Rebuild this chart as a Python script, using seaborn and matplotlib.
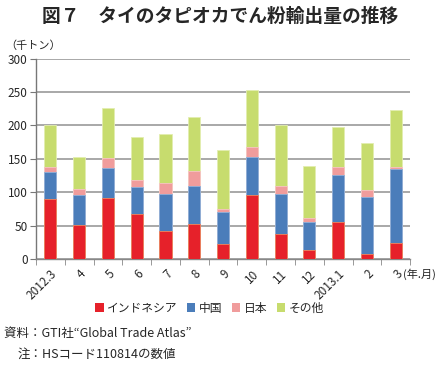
import pandas as pd
import matplotlib.pyplot as plt
import seaborn as sns
from matplotlib.patches import Patch

# data (thousand tons)
months = ['2012.3', '4', '5', '6', '7', '8', '9', '10', '11', '12', '2013.1', '2', '3']
indonesia = [89.5, 50.5, 91, 67, 42.5, 52, 22.5, 95.5, 37.5, 13.5, 55, 8, 24.5]
china = [41, 46, 45, 40.5, 55, 57, 48.5, 57, 59.5, 42, 70.5, 84.5, 110]
japan = [6.5, 8.5, 14.5, 10.5, 16, 22.5, 4.5, 14.5, 12, 5.5, 11.5, 11, 3]
other = [64, 48, 76, 64, 73.5, 80.5, 88, 86.5, 92, 78, 60.5, 70.5, 86]
series_names = ['インドネシア', '中国', '日本', 'その他']
colors = ['#E6212A', '#4B7DBA', '#F09C9C', '#C7DC6E']
edges = ['#F2845A', '#8FB0DA', '#F7C4C4', '#E3EEB0']

sns.set_style('white')
plt.rcParams['font.family'] = ['Noto Sans CJK JP', 'DejaVu Sans']

df = pd.DataFrame({'month': months, 'インドネシア': indonesia, '中国': china,
                   '日本': japan, 'その他': other})
# cumulative totals for the stacked look
cum = df[series_names].cumsum(axis=1)

fig = plt.figure(figsize=(4.41, 3.72), dpi=100)
ax = fig.add_axes([0.0816, 0.3038, 0.8484, 0.5389])

# draw from the top segment down so the lower ones cover the rest
for name, c, e in reversed(list(zip(series_names, colors, edges))):
    sns.barplot(x=df['month'], y=cum[name], color=c, width=0.42,
                edgecolor=e, linewidth=0.6, saturation=1, ax=ax, zorder=3)

ax.set_ylim(0, 300)
ax.set_xlim(-0.5, 12.5)
ax.set_yticks(range(0, 301, 50))
ax.yaxis.grid(True, color='#9a9a9a', linewidth=1.2, zorder=0)
ax.set_axisbelow(True)
ax.set_xlabel('')
ax.set_ylabel('')

for s in ['top', 'right']:
    ax.spines[s].set_visible(False)
ax.spines['left'].set_color('#777777')
ax.spines['bottom'].set_color('#888888')
ax.spines['left'].set_linewidth(1.0)
ax.spines['bottom'].set_linewidth(1.0)

ax.tick_params(axis='y', left=True, length=4, color='#777777', labelsize=8.5, pad=2)
ax.set_xticks(range(len(months)))
ax.set_xticklabels(months, rotation=45, ha='right', rotation_mode='anchor', fontsize=8.5)
ax.tick_params(axis='x', which='major', length=0, pad=6)
ax.set_xticks([i + 0.5 for i in range(-1, len(months))], minor=True)
ax.tick_params(axis='x', which='minor', bottom=True, length=4, color='#888888')

fig.text(0.5, 0.955, '図７　タイのタピオカでん粉輸出量の推移', ha='center', va='center',
         fontsize=13.5, fontweight='bold')
fig.text(0.012, 0.878, '（千トン）', ha='left', va='center', fontsize=8)
fig.text(0.913, 0.262, '(年.月)', ha='left', va='center', fontsize=8)

handles = [Patch(facecolor=c, edgecolor='none') for c in colors]
fig.legend(handles, series_names, loc='center', bbox_to_anchor=(0.475, 0.172), ncol=4,
           frameon=False, fontsize=8.5, handlelength=0.7, handleheight=0.7,
           handletextpad=0.3, columnspacing=0.8)

fig.text(0.01, 0.103, '資料：GTI社“Global Trade Atlas”', ha='left', va='center', fontsize=9)
fig.text(0.04, 0.047, '注：HSコード110814の数値', ha='left', va='center', fontsize=9)

fig.savefig('out.png', dpi=100)
